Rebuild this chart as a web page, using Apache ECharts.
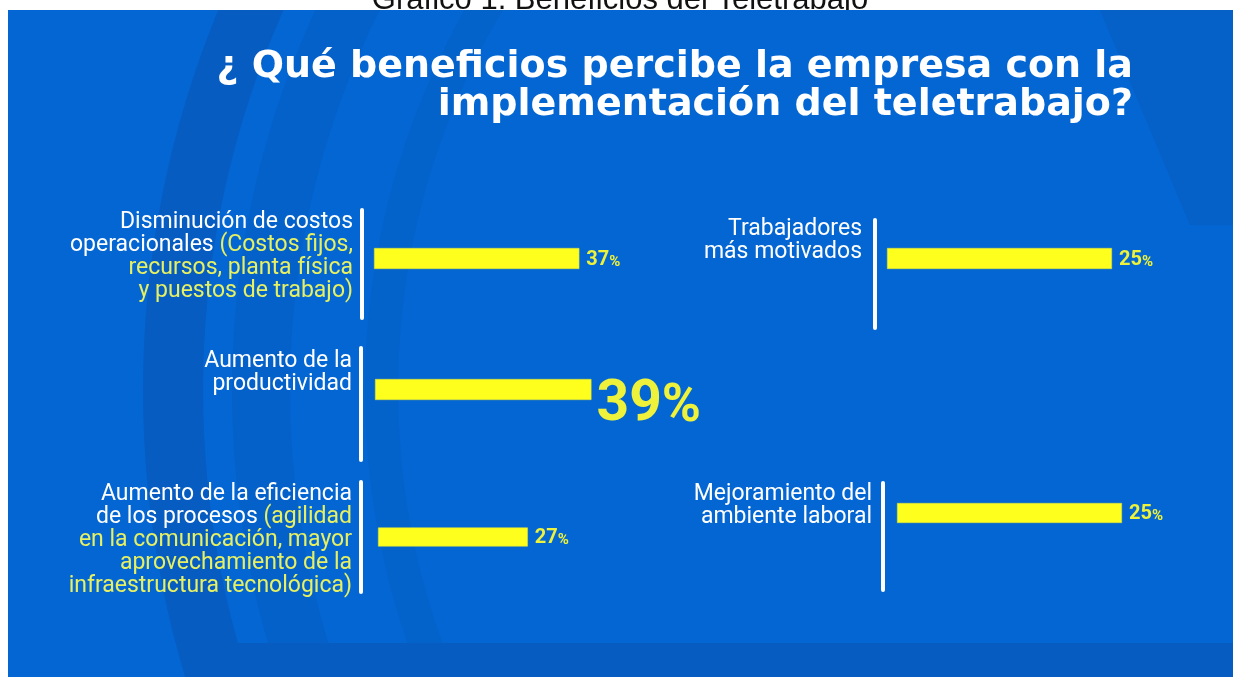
<!DOCTYPE html>
<html>
<head>
<meta charset="utf-8">
<script src="https://cdn.jsdelivr.net/npm/echarts@6/dist/echarts.min.js"></script>
<style>
html,body{margin:0;padding:0;background:#ffffff;}
#chart{width:1233px;height:677px;}
</style>
</head>
<body>
<div id="chart"></div>
<script>
// ---------- data ----------
const caption = 'Gráfico 1. Beneficios del Teletrabajo';
const titleLines = ['¿ Qué beneficios percibe la empresa con la', 'implementación del teletrabajo?'];
const categories = [
  'Disminución de costos\noperacionales',
  'Aumento de la\nproductividad',
  'Aumento de la eficiencia\nde los procesos',
  'Trabajadores\nmás motivados',
  'Mejoramiento del\nambiente laboral'
];
const details = [
  '(Costos fijos,\nrecursos, planta física\ny puestos de trabajo)',
  '',
  '(agilidad\nen la comunicación, mayor\naprovechamiento de la\ninfraestructura tecnológica)',
  '',
  ''
];
const values = [37, 39, 27, 25, 25];
const highlighted = [false, true, false, false, false];

// ---------- layout / style ----------
const BLUE = '#0466d2';
const DARK = '#065cc1';
const WHITE = '#ffffff';
const PALE = '#e6f062';
const BAR = '#ffff1e';
const VAL = '#eef23a';
const FONT = 'Roboto';

const panels = [
  {left: 374, top: 210, height: 108, offset: 12, width: 555, max: 100, bar: 21, spacer: 11, pad: [0, 0, 15, 0], margin: 9},
  {left: 375, top: 348, height: 112, offset: 14, width: 555, max: 100, bar: 21, spacer: 29, pad: [0, 0, 63, 0], margin: 9},
  {left: 378, top: 482, height: 110, offset: 17, width: 555, max: 100, bar: 19, spacer: 0,  pad: [6, 0, 0, 0], margin: 9},
  {left: 887, top: 220, height: 108, offset: 12, width: 315, max: 35, bar: 21, spacer: 31, pad: [0, 0, 67, 0], margin: 13},
  {left: 897, top: 483, height: 107, offset: 14, width: 315, max: 35, bar: 20, spacer: 47, pad: [0, 0, 62, 0], margin: 11}
];

function buildLabel(i) {
  const main = categories[i].split('\n');
  const det = details[i] ? details[i].split('\n') : [];
  const lines = main.map(s => '{w|' + s + '}');
  if (det.length) {
    lines[lines.length - 1] += '{y| ' + det[0] + '}';
    for (let k = 1; k < det.length; k++) lines.push('{y|' + det[k] + '}');
  }
  return lines.join('\n');
}

const grids = [], xAxes = [], yAxes = [], series = [];
panels.forEach((p, i) => {
  grids.push({left: p.left, top: p.top, height: p.height, width: p.width, containLabel: false});
  xAxes.push({gridIndex: i, type: 'value', min: 0, max: p.max, show: false});
  yAxes.push({
    gridIndex: i,
    type: 'category',
    data: [categories[i]],
    offset: p.offset,
    axisLine: {show: true, onZero: false, lineStyle: {color: WHITE, width: 4}},
    axisTick: {show: false},
    splitLine: {show: false},
    axisLabel: {
      margin: p.margin,
      align: 'right',
      padding: p.pad,
      formatter: () => buildLabel(i),
      rich: {
        w: {color: WHITE, fontFamily: FONT, fontSize: 23, lineHeight: 23},
        y: {color: PALE, fontFamily: FONT, fontSize: 23, lineHeight: 23}
      }
    }
  });
  const big = highlighted[i];
  series.push({
    type: 'bar',
    xAxisIndex: i,
    yAxisIndex: i,
    data: [values[i]],
    barWidth: p.bar,
    barGap: '0%',
    itemStyle: {color: BAR, borderColor: '#d9e23a', borderWidth: 0.6},
    label: {
      show: true,
      position: 'right',
      distance: big ? 5 : 7,
      offset: big ? [0, 16] : [0, 1],
      formatter: (d) => '{n|' + d.value + '}{p|%}',
      rich: big ? {
        n: {color: VAL, fontFamily: FONT, fontWeight: 'bold', fontSize: 57, verticalAlign: 'bottom'},
        p: {color: VAL, fontFamily: FONT, fontWeight: 'bold', fontSize: 53, verticalAlign: 'bottom'}
      } : {
        n: {color: VAL, fontFamily: FONT, fontWeight: 'bold', fontSize: 20, verticalAlign: 'bottom'},
        p: {color: VAL, fontFamily: FONT, fontWeight: 'bold', fontSize: 15, verticalAlign: 'bottom'}
      }
    },
    silent: true,
    z: 3
  });
  if (p.spacer > 0) {
    series.push({
      type: 'bar',
      xAxisIndex: i,
      yAxisIndex: i,
      data: [0],
      barWidth: p.spacer,
      barGap: '0%',
      itemStyle: {color: 'rgba(0,0,0,0)'},
      label: {show: false},
      silent: true
    });
  }
});

const chart = echarts.init(document.getElementById('chart'), null, {renderer: 'canvas'});
chart.setOption({
  backgroundColor: '#ffffff',
  animation: false,
  title: {
    text: titleLines.join('\n'),
    left: 1133,
    top: 48,
    padding: 0,
    textAlign: 'right',
    textStyle: {color: WHITE, fontFamily: 'DejaVu Sans', fontWeight: 'bold', fontSize: 38, lineHeight: 38}
  },
  graphic: {
    elements: [
      {type: 'rect', silent: true, z: -20, shape: {x: 8, y: 10, width: 1225, height: 667}, style: {fill: BLUE}},
      {type: 'ring', silent: true, z: -19, shape: {cx: 1140, cy: 390, r: 997, r0: 937}, style: {fill: DARK}},
      {type: 'ring', silent: true, z: -19, shape: {cx: 1140, cy: 390, r: 908, r0: 850}, style: {fill: DARK, opacity: 0.45}},
      {type: 'ring', silent: true, z: -19, shape: {cx: 1140, cy: 390, r: 775, r0: 742}, style: {fill: DARK, opacity: 0.4}},
      {type: 'rect', silent: true, z: -19, shape: {x: 190, y: 643, width: 1043, height: 34}, style: {fill: DARK}},
      {type: 'polygon', silent: true, z: -19, shape: {points: [[1100, 10], [1233, 10], [1233, 225], [1190, 225]]}, style: {fill: DARK, opacity: 0.6}},
      {type: 'rect', silent: true, z: -18, shape: {x: 0, y: 0, width: 1233, height: 10}, style: {fill: '#ffffff'}},
      {type: 'rect', silent: true, z: -18, shape: {x: 0, y: 0, width: 8, height: 677}, style: {fill: '#ffffff'}},
      {type: 'text', silent: true, z: -17, style: {text: caption, x: 620, y: 16, align: 'center', verticalAlign: 'bottom', fill: '#111111', font: '31px "Liberation Sans"'}},
      {type: 'rect', silent: true, z: -16, shape: {x: 820, y: 10, width: 80, height: 14}, style: {fill: BLUE}}
    ]
  },
  grid: grids,
  xAxis: xAxes,
  yAxis: yAxes,
  series: series
});
</script>
</body>
</html>
